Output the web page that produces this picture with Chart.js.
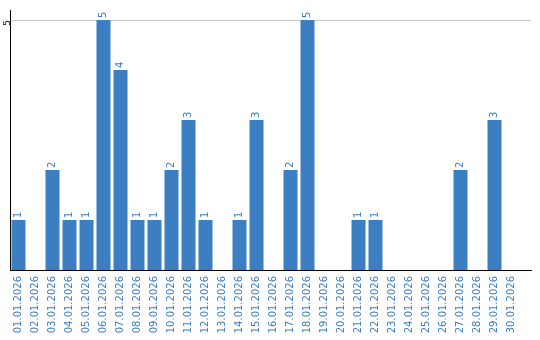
<!DOCTYPE html>
<html>
<head>
<meta charset="utf-8">
<script src="https://cdn.jsdelivr.net/npm/chart.js@4"></script>
<style>
  html, body { margin: 0; padding: 0; background: #fff; }
  canvas { display: block; }
</style>
</head>
<body>
<canvas id="visitsChart" width="540" height="340"></canvas>
<script>
const days = [
    '01.01.2026', '02.01.2026', '03.01.2026', '04.01.2026', '05.01.2026',
    '06.01.2026', '07.01.2026', '08.01.2026', '09.01.2026', '10.01.2026',
    '11.01.2026', '12.01.2026', '13.01.2026', '14.01.2026', '15.01.2026',
    '16.01.2026', '17.01.2026', '18.01.2026', '19.01.2026', '20.01.2026',
    '21.01.2026', '22.01.2026', '23.01.2026', '24.01.2026', '25.01.2026',
    '26.01.2026', '27.01.2026', '28.01.2026', '29.01.2026', '30.01.2026'
];
const counts = [1, 0, 2, 1, 1, 5, 4, 1, 1, 2, 3, 1, 0, 1, 3, 0, 2, 5, 0, 0, 1, 1, 0, 0, 0, 0, 2, 0, 3, 0];
const yTicks = [5];

const blue = '#3b7ec2';

// values written vertically on top of each bar
const barValues = {
    id: 'barValues',
    afterDatasetsDraw(chart) {
        const ctx = chart.ctx;
        const meta = chart.getDatasetMeta(0);
        ctx.save();
        ctx.font = '10px "DejaVu Sans"';
        ctx.fillStyle = blue;
        ctx.textAlign = 'left';
        ctx.textBaseline = 'middle';
        meta.data.forEach((bar, i) => {
            const v = counts[i];
            if (!v) return;
            ctx.save();
            ctx.translate(bar.x, bar.y - 2);
            ctx.rotate(-Math.PI / 2);
            ctx.fillText(String(v), 0, 0);
            ctx.restore();
        });
        ctx.restore();
    }
};

const ctx = document.getElementById('visitsChart').getContext('2d');
new Chart(ctx, {
    type: 'bar',
    data: {
        labels: days,
        datasets: [{
            data: counts,
            backgroundColor: blue,
            categoryPercentage: 1,
            barPercentage: 14 / 17
        }]
    },
    options: {
        responsive: false,
        animation: false,
        layout: { padding: { top: 10, right: 9, bottom: 4, left: 0 } },
        plugins: { legend: { display: false }, tooltip: { enabled: false } },
        scales: {
            x: {
                grid: { display: false, drawTicks: false },
                border: { display: true, color: '#000', width: 1 },
                ticks: {
                    color: blue,
                    font: { family: 'DejaVu Sans', size: 10 },
                    minRotation: 90,
                    maxRotation: 90,
                    autoSkip: false,
                    padding: 6
                },
                afterBuildTicks: s => { s._valueRange = 521 / 17; },
                afterFit: s => { s.height = 66; }
            },
            y: {
                min: 0,
                max: 5.2,
                grid: { color: '#c8c8c8', drawTicks: false },
                border: { display: true, color: '#000', width: 1 },
                ticks: {
                    color: '#000',
                    font: { family: 'DejaVu Sans', size: 9 },
                    minRotation: 90,
                    maxRotation: 90,
                    padding: 2
                },
                afterBuildTicks: s => { s.ticks = yTicks.map(v => ({ value: v })); },
                afterFit: s => { s.width = 10; }
            }
        }
    },
    plugins: [barValues]
});
</script>
</body>
</html>
